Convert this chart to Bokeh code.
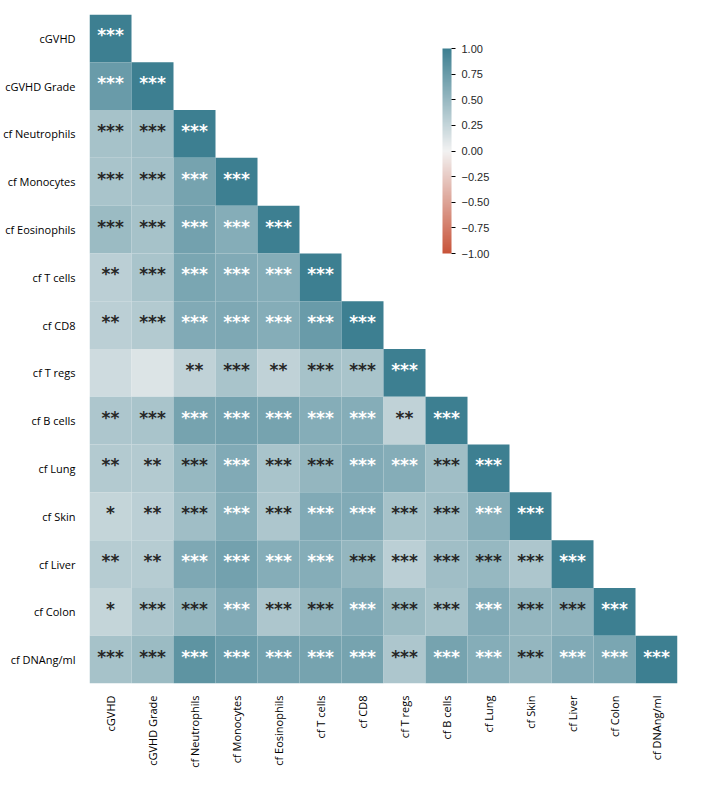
import math
import numpy as np
from bokeh.plotting import figure
from bokeh.models import (ColumnDataSource, LinearColorMapper, ColorBar, FixedTicker,
                          CustomJSTickFormatter, FactorRange)
from bokeh.transform import transform
from bokeh.core.properties import value
from bokeh.embed import file_html
from bokeh.resources import INLINE

labels = ["cGVHD", "cGVHD Grade", "cf Neutrophils", "cf Monocytes", "cf Eosinophils",
          "cf T cells", "cf CD8", "cf T regs", "cf B cells", "cf Lung", "cf Skin",
          "cf Liver", "cf Colon", "cf DNAng/ml"]

corr = [
    [1.00],
    [0.75, 1.00],
    [0.42, 0.45, 1.00],
    [0.40, 0.43, 0.68, 1.00],
    [0.48, 0.42, 0.70, 0.60, 1.00],
    [0.30, 0.40, 0.66, 0.62, 0.60, 1.00],
    [0.30, 0.35, 0.62, 0.64, 0.60, 0.75, 1.00],
    [0.20, 0.12, 0.28, 0.40, 0.28, 0.42, 0.40, 1.00],
    [0.38, 0.40, 0.68, 0.70, 0.68, 0.60, 0.60, 0.28, 1.00],
    [0.35, 0.35, 0.50, 0.62, 0.40, 0.52, 0.62, 0.60, 0.45, 1.00],
    [0.25, 0.30, 0.45, 0.60, 0.38, 0.62, 0.62, 0.42, 0.45, 0.60, 1.00],
    [0.33, 0.33, 0.64, 0.70, 0.60, 0.60, 0.52, 0.30, 0.45, 0.50, 0.38, 1.00],
    [0.25, 0.38, 0.50, 0.62, 0.38, 0.52, 0.62, 0.48, 0.42, 0.62, 0.52, 0.54, 1.00],
    [0.42, 0.48, 0.82, 0.75, 0.70, 0.68, 0.68, 0.38, 0.68, 0.60, 0.52, 0.62, 0.66, 1.00],
]

stars = [
    ["***"],
    ["***", "***"],
    ["***", "***", "***"],
    ["***", "***", "***", "***"],
    ["***", "***", "***", "***", "***"],
    ["**", "***", "***", "***", "***", "***"],
    ["**", "***", "***", "***", "***", "***", "***"],
    ["", "", "**", "***", "**", "***", "***", "***"],
    ["**", "***", "***", "***", "***", "***", "***", "**", "***"],
    ["**", "**", "***", "***", "***", "***", "***", "***", "***", "***"],
    ["*", "**", "***", "***", "***", "***", "***", "***", "***", "***", "***"],
    ["**", "**", "***", "***", "***", "***", "***", "***", "***", "***", "***", "***"],
    ["*", "***", "***", "***", "***", "***", "***", "***", "***", "***", "***", "***", "***"],
    ["***", "***", "***", "***", "***", "***", "***", "***", "***", "***", "***", "***", "***", "***"],
]

colorbar_ticks = [-1.0, -0.75, -0.5, -0.25, 0.0, 0.25, 0.5, 0.75, 1.0]

# diverging palette (red -> light -> teal)
NEG = np.array([200, 84, 58])
MID = np.array([242, 242, 242])
POS = np.array([61, 127, 145])
N = 256
palette_rgb = []
for i in range(N):
    t = i / (N - 1) * 2 - 1
    if t < 0:
        c = MID + (-t) * (NEG - MID)
    else:
        c = MID + t * (POS - MID)
    palette_rgb.append(tuple(int(round(v)) for v in c))
palette = ["#%02x%02x%02x" % c for c in palette_rgb]


def lum(rgb):
    out = []
    for v in rgb:
        v = v / 255
        out.append(v / 12.92 if v <= 0.03928 else ((v + 0.055) / 1.055) ** 2.4)
    return 0.2126 * out[0] + 0.7152 * out[1] + 0.0722 * out[2]


xs, ys, vals, txt, tcol = [], [], [], [], []
for i, row in enumerate(corr):
    for j, v in enumerate(row):
        xs.append(labels[j])
        ys.append(labels[i])
        vals.append(v)
        txt.append(stars[i][j])
        idx = int(min(N - 1, max(0, (v + 1) / 2 * N)))
        tcol.append("#262626" if lum(palette_rgb[idx]) > 0.408 else "#ffffff")

src = ColumnDataSource(dict(x=xs, y=ys, v=vals, t=txt, tc=tcol))

mapper = LinearColorMapper(palette=palette, low=-1, high=1)

p = figure(x_range=FactorRange(factors=labels),
           y_range=FactorRange(factors=list(reversed(labels))),
           frame_width=588, frame_height=669,
           min_border_left=84, min_border_top=14, min_border_right=15, min_border_bottom=86,
           output_backend="svg", toolbar_location=None)

p.rect(x="x", y="y", width=1.0, height=1.0, source=src,
       fill_color=transform("v", mapper), line_color=None)
p.text(x="x", y="y", text="t", source=src, text_color="tc",
       text_align="center", text_baseline="middle", y_offset=-3,
       text_font=value("DejaVu Sans"), text_font_size="17px", text_font_style="bold")

p.grid.grid_line_color = None
p.outline_line_color = None
for ax in (p.xaxis, p.yaxis):
    ax.axis_line_color = None
    ax.major_tick_line_color = None
    ax.minor_tick_line_color = None
    ax.major_label_text_font = "Open Sans"
    ax.major_label_text_font_size = "11px"
    ax.major_label_text_color = "#000000"
p.xaxis.major_label_orientation = math.pi / 2
p.xaxis.major_label_standoff = 6
p.yaxis.major_label_standoff = 8

cb = ColorBar(color_mapper=mapper, width=9, height=205,
              location=(353, 430), padding=0,
              ticker=FixedTicker(ticks=colorbar_ticks),
              formatter=CustomJSTickFormatter(code="return tick.toFixed(2).replace('-', '\u2212');"),
              major_tick_in=0, major_tick_out=4, major_tick_line_color="#000000",
              label_standoff=6, major_label_text_font="Liberation Sans",
              major_label_text_font_size="11px", major_label_text_color="#262626",
              bar_line_color=None, border_line_color=None, background_fill_alpha=0)
p.add_layout(cb)

open("out.html", "w").write(file_html(p, INLINE))
